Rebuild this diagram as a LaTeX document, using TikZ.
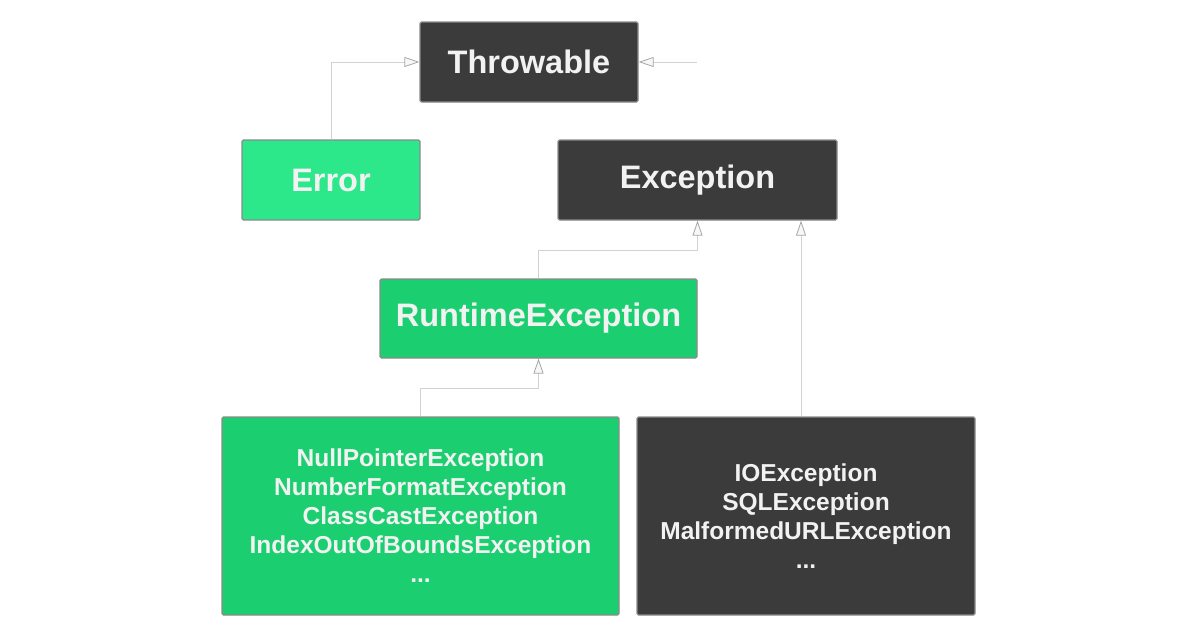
\documentclass[tikz,border=0pt]{standalone}
\usepackage{fontspec}
\setmainfont{Liberation Sans}
\usetikzlibrary{arrows.meta}
\definecolor{darkbox}{HTML}{3B3B3B}
\definecolor{greenA}{HTML}{2DE88A}
\definecolor{greenB}{HTML}{1BCF70}
\definecolor{linegray}{HTML}{D2D2D2}
\definecolor{bordergray}{HTML}{8A8A8A}
\definecolor{txt}{HTML}{F2F2F2}
\tikzset{
  box/.style={draw=bordergray, line width=1.2pt, rounded corners=1.5pt, inner sep=0pt, text=txt, align=center},
  darkfill/.style={box, fill=darkbox},
  greenfill/.style={box, fill=greenB},
  lightgreen/.style={box, fill=greenA},
  title/.style={font=\bfseries\fontsize{32.5}{38}\selectfont},
  list/.style={font=\bfseries\fontsize{24.5}{29}\selectfont},
  conn/.style={draw=linegray, line width=1pt},
  inh/.style={conn, -{Triangle[length=15pt, width=10pt, fill=gray!6, color=gray!70, line width=0.8pt]}},
}
\begin{document}
\begin{tikzpicture}[x=1pt, y=-1pt]
\useasboundingbox (0,0) rectangle (1180,638);
\node[darkfill, title, minimum width=218pt, minimum height=80pt] (thr) at (529,62) {Throwable};
\node[lightgreen, title, minimum width=178pt, minimum height=80pt] (err) at (331,180) {Error};
\node[darkfill, title, minimum width=279pt, minimum height=80pt] (exc) at (697.5,180) {Exception};
\node[greenfill, title, minimum width=317pt, minimum height=79pt] (rt) at (538.5,318.5) {RuntimeException};
\node[greenfill, list, minimum width=397pt, minimum height=198pt] (unchk) at (420.5,516) {NullPointerException\\NumberFormatException\\ClassCastException\\IndexOutOfBoundsException\\...};
\node[darkfill, list, minimum width=338pt, minimum height=198pt] (chk) at (806,516) {IOException\\SQLException\\MalformedURLException\\...};
\coordinate (free) at (697,62);
\coordinate (m1) at (0,250);
\coordinate (m2) at (0,388);
\draw[inh] (err.north) |- (thr.west);
\draw[inh] (free) -- (thr.east);
\draw[inh] (rt.north) -- (rt.north |- m1) -| (exc.south);
\draw[inh] ([xshift=-5pt]chk.north) -- ([xshift=-5pt]chk.north |- exc.south);
\draw[inh] (unchk.north) -- (unchk.north |- m2) -| (rt.south);
\end{tikzpicture}
\end{document}
